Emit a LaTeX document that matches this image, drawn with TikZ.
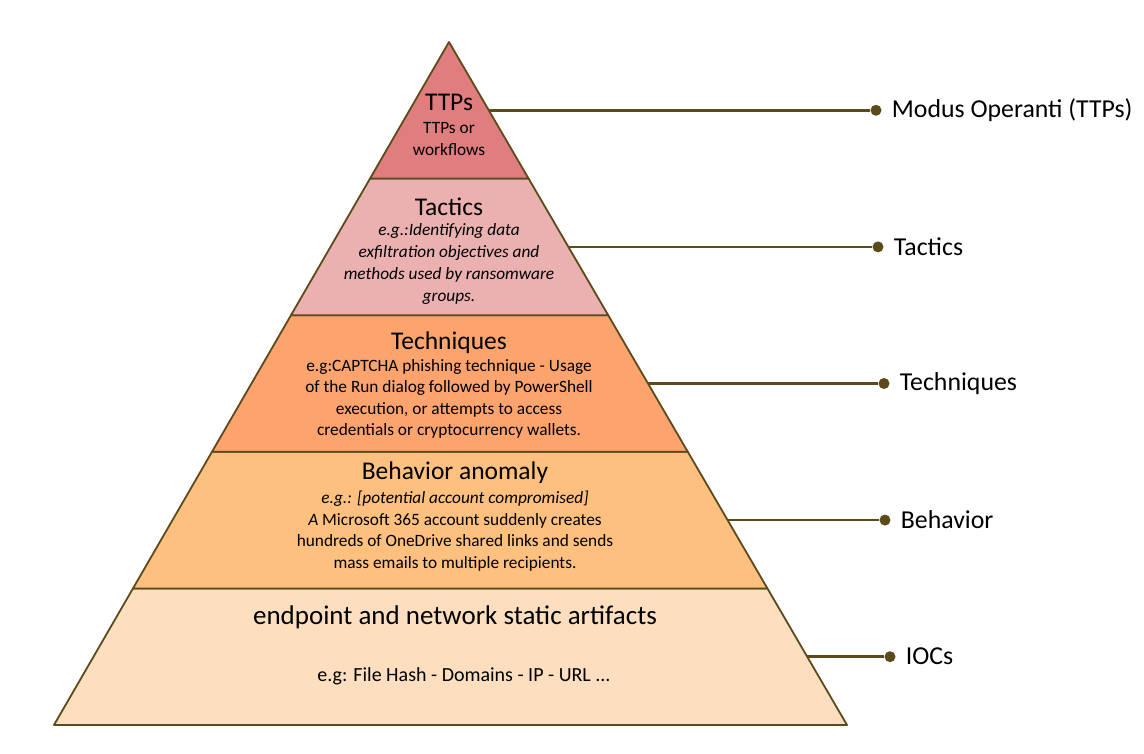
\documentclass[tikz,border=0pt]{standalone}
\usepackage{fontspec}
\setmainfont{Carlito}
\usetikzlibrary{positioning, calc}

\definecolor{edgebrown}{HTML}{5C4A1A}
\definecolor{ttpfill}{HTML}{E07D7E}
\definecolor{tacfill}{HTML}{EBB1B1}
\definecolor{techfill}{HTML}{FDA46E}
\definecolor{behfill}{HTML}{FEC07E}
\definecolor{iocfill}{HTML}{FDDFBF}

\begin{document}
\begin{tikzpicture}[
    x=1pt, y=-1pt,
    layer/.style={draw=edgebrown, line width=1.8pt, line join=round},
    titlenode/.style={font=\fontsize{25.5}{30}\selectfont, inner sep=0pt, align=center},
    bodynode/.style={font=\fontsize{17.3}{21.5}\selectfont, inner sep=0pt, align=center},
    dotnode/.style={circle, fill=edgebrown, inner sep=0pt, minimum size=11pt},
    sidelabel/.style={font=\fontsize{25.8}{30}\selectfont, inner sep=0pt},
    link/.style={draw=edgebrown, line width=2.4pt}
]
    \useasboundingbox (0,0) rectangle (1144,754);

    \coordinate (Apex)  at (449,42);
    \coordinate (BaseL) at (54,725);
    \coordinate (BaseR) at (847,725);

    % layer boundaries on both sides
    \coordinate (L1) at ($(Apex)!0.2!(BaseL)$);
    \coordinate (R1) at ($(Apex)!0.2!(BaseR)$);
    \coordinate (L2) at ($(Apex)!0.4!(BaseL)$);
    \coordinate (R2) at ($(Apex)!0.4!(BaseR)$);
    \coordinate (L3) at ($(Apex)!0.6!(BaseL)$);
    \coordinate (R3) at ($(Apex)!0.6!(BaseR)$);
    \coordinate (L4) at ($(Apex)!0.8!(BaseL)$);
    \coordinate (R4) at ($(Apex)!0.8!(BaseR)$);

    \draw[layer, fill=iocfill]  (L4) -- (R4) -- (BaseR) -- (BaseL) -- cycle;
    \draw[layer, fill=behfill]  (L3) -- (R3) -- (R4) -- (L4) -- cycle;
    \draw[layer, fill=techfill] (L2) -- (R2) -- (R3) -- (L3) -- cycle;
    \draw[layer, fill=tacfill]  (L1) -- (R1) -- (R2) -- (L2) -- cycle;
    \draw[layer, fill=ttpfill]  (Apex) -- (R1) -- (L1) -- cycle;

    % layer texts
    \node[titlenode] (TTPsTitle) at (449,102) {TTPs};
    \node[bodynode]  (TTPsBody)  at (449,139) {TTPs or\\workflows};
    \node[titlenode] (TacTitle)  at (449,207) {Tactics};
    \node[bodynode, font=\fontsize{17.3}{21.7}\selectfont\itshape] (TacBody) at (449,264)
        {e.g.:Identifying data\\exfiltration objectives and\\methods used by ransomware\\groups.};
    \node[titlenode] (TechTitle) at (449,343) {Techniques};
    \node[bodynode]  (TechBody)  at (449,399)
        {e.g:CAPTCHA phishing technique - Usage\\of the Run dialog followed by PowerShell\\execution, or attempts to access\\credentials or cryptocurrency wallets.};
    \node[titlenode] (BehTitle)  at (455,473) {Behavior anomaly};
    \node[bodynode]  (BehBody)   at (455,531)
        {\textit{e.g.: [potential account compromised]}\\\textit{A} Microsoft 365 account suddenly creates\\hundreds of OneDrive shared links and sends\\mass emails to multiple recipients.};
    \node[titlenode, font=\fontsize{27}{32}\selectfont] (IocTitle) at (455,617) {endpoint and network static artifacts};
    \node[bodynode, font=\fontsize{20}{24}\selectfont]  (IocBody)  at (464,676) {e.g: File Hash - Domains - IP - URL ...};

    % side labels
    \coordinate (E1) at ($(Apex)!0.1!(BaseR)$);
    \coordinate (E2) at ($(Apex)!0.3!(BaseR)$);
    \coordinate (E3) at ($(Apex)!0.5!(BaseR)$);
    \coordinate (E4) at ($(Apex)!0.7!(BaseR)$);
    \coordinate (E5) at ($(Apex)!0.9!(BaseR)$);

    \node[dotnode] (DotTTPs) at (E1 -| 876,0) {};
    \node[dotnode] (DotTac)  at (E2 -| 878,0) {};
    \node[dotnode] (DotTech) at (E3 -| 884,0) {};
    \node[dotnode] (DotBeh)  at (E4 -| 885,0) {};
    \node[dotnode] (DotIoc)  at (E5 -| 890,0) {};

    \node[sidelabel] (LblTTPs) [right=10pt of DotTTPs] {Modus Operanti (TTPs)};
    \node[sidelabel] (LblTac)  [right=10pt of DotTac]  {Tactics};
    \node[sidelabel] (LblTech) [right=10pt of DotTech] {Techniques};
    \node[sidelabel] (LblBeh)  [right=10pt of DotBeh]  {Behavior};
    \node[sidelabel] (LblIoc)  [right=10pt of DotIoc]  {IOCs};

    \draw[link] (E1) -- (DotTTPs);
    \draw[link] (E2) -- (DotTac);
    \draw[link] (E3) -- (DotTech);
    \draw[link] (E4) -- (DotBeh);
    \draw[link] (E5) -- (DotIoc);

\end{tikzpicture}
\end{document}
